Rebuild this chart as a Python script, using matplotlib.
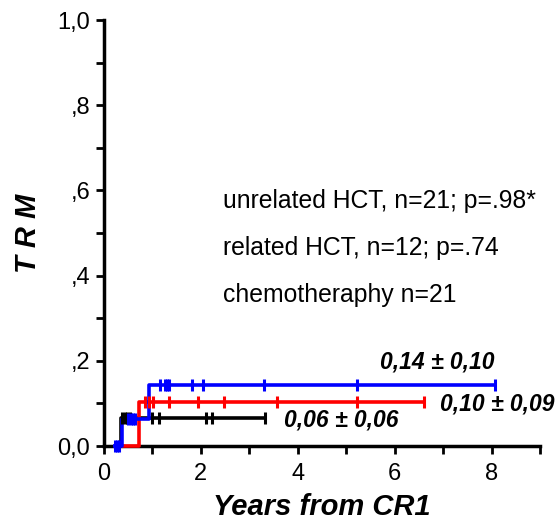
import matplotlib
matplotlib.use("Agg")
import matplotlib.pyplot as plt
from matplotlib.ticker import MultipleLocator, FixedLocator

plt.rcParams["font.family"] = ["Liberation Sans", "DejaVu Sans"]

# Step curves (time in years, cumulative TRM)
blue_t = [0.19, 0.37, 0.93, 8.08]
blue_y = [0.0, 0.063, 0.143, 0.143]
blue_cens_t = [0.22, 0.27, 0.31, 0.50, 0.55, 0.60, 0.65, 1.15, 1.26, 1.30, 1.34, 1.81, 2.04, 3.30, 5.22, 8.08]
blue_cens_y = [0.0, 0.0, 0.0, 0.063, 0.063, 0.063, 0.063, 0.143, 0.143, 0.143, 0.143, 0.143, 0.143, 0.143, 0.143, 0.143]

red_t = [0.37, 0.72, 6.60]
red_y = [0.0, 0.103, 0.103]
red_cens_t = [0.85, 0.93, 1.01, 1.34, 1.94, 2.47, 3.57, 5.22, 6.60]
red_cens_y = [0.103] * 9

black_t = [0.30, 0.35, 3.32]
black_y = [0.0, 0.066, 0.066]
black_cens_t = [0.37, 0.43, 0.48, 0.53, 0.99, 1.13, 2.10, 2.22, 3.32]
black_cens_y = [0.066] * 9

legend_lines = ["unrelated HCT, n=21; p=.98*", "related HCT, n=12; p=.74", "chemotheraphy n=21"]
annot_text = ["0,14 \u00b1 0,10", "0,10 \u00b1 0,09", "0,06 \u00b1 0,06"]
annot_x = [6.87, 8.11, 4.89]
annot_y = [0.197, 0.099, 0.061]

yticks = [0.0, 0.2, 0.4, 0.6, 0.8, 1.0]
ytick_labels = ["0,0", ",2", ",4", ",6", ",8", "1,0"]
xticks = [0, 2, 4, 6, 8]

fig = plt.figure(figsize=(5.57, 5.26), dpi=100)
ax = fig.add_axes([104/557, 80/526, 436/557, 426/526])

for t, y, c in [(black_t, black_y, "black"), (red_t, red_y, "#ff0000"), (blue_t, blue_y, "#0000ff")]:
    ax.step(t, y, where="post", color=c, lw=2.6, solid_capstyle="butt", zorder=3, clip_on=False)
for t, y, c in [(black_cens_t, black_cens_y, "black"), (red_cens_t, red_cens_y, "#ff0000"), (blue_cens_t, blue_cens_y, "#0000ff")]:
    ax.plot(t, y, ls="none", marker="|", ms=9, mew=2.2, color=c, zorder=4, clip_on=False)

ax.set_xlim(0, 9)
ax.set_ylim(0, 1.0)
ax.spines["top"].set_visible(False)
ax.spines["right"].set_visible(False)
for s in ["left", "bottom"]:
    ax.spines[s].set_linewidth(2.5)
ax.xaxis.set_major_locator(FixedLocator(xticks))
ax.xaxis.set_minor_locator(MultipleLocator(1))
ax.set_yticks(yticks)
ax.set_yticklabels(ytick_labels)
ax.yaxis.set_minor_locator(MultipleLocator(0.1))
ax.tick_params(which="both", direction="out", length=6, width=2, pad=4,
               labelsize=17)
ax.tick_params(axis="x", which="major", pad=6)

ax.set_ylabel("T R M", fontsize=21, fontweight="bold", fontstyle="italic",
              labelpad=11)
ax.set_xlabel("Years from CR1", fontsize=21, fontweight="bold", fontstyle="italic",
              labelpad=6)

for i, txt in enumerate(legend_lines):
    ax.text(2.46, 0.575 - i * 0.110, txt, fontsize=17.8,
            va="center", ha="left")

for txt, x, y in zip(annot_text, annot_x, annot_y):
    ax.text(x, y, txt, fontsize=16.5, fontweight="bold", fontstyle="italic",
            ha="center", va="center", clip_on=False)

fig.savefig("out.png", dpi=100)
